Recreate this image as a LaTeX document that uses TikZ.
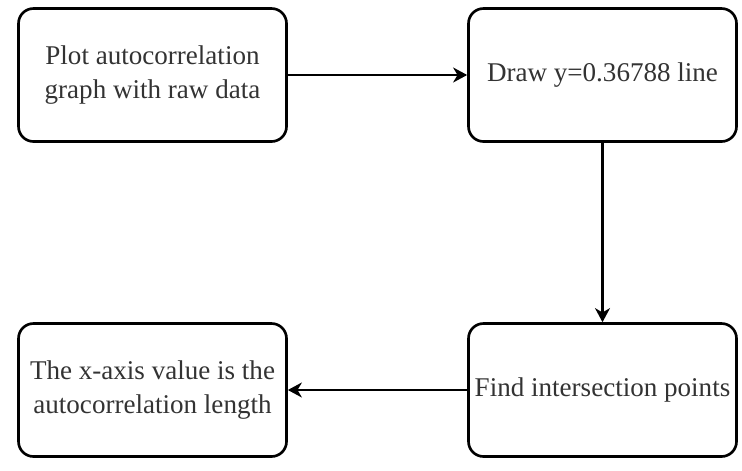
\documentclass[tikz,border=0pt]{standalone}
\usepackage{fontspec}
\setmainfont{Liberation Serif}
\usetikzlibrary{arrows.meta}
\tikzset{
  stepbox/.style={draw, line width=1.5pt, rounded corners=0.3cm, minimum width=5.36cm,
    minimum height=2.66cm, align=center, font=\fontsize{15.4}{19.5}\selectfont, text=black!80},
  flow/.style={-{Stealth[length=8pt,width=8.5pt,inset=2.5pt]}, line width=1.5pt}
}
\begin{document}
\begin{tikzpicture}
\useasboundingbox (0,0) rectangle (14.84,9.4);
\node[stepbox] (plot) at (3.05,7.9) {Plot autocorrelation\\graph with raw data};
\node[stepbox] (line) at (12.05,7.9) {Draw y=0.36788 line};
\node[stepbox] (find) at (12.05,1.6) {Find intersection points};
\node[stepbox] (length) at (3.05,1.6) {The x-axis value is the\\autocorrelation length};
\draw[flow] (plot) -- (line);
\draw[flow] (line) -- (find);
\draw[flow] (find) -- (length);
\end{tikzpicture}
\end{document}
